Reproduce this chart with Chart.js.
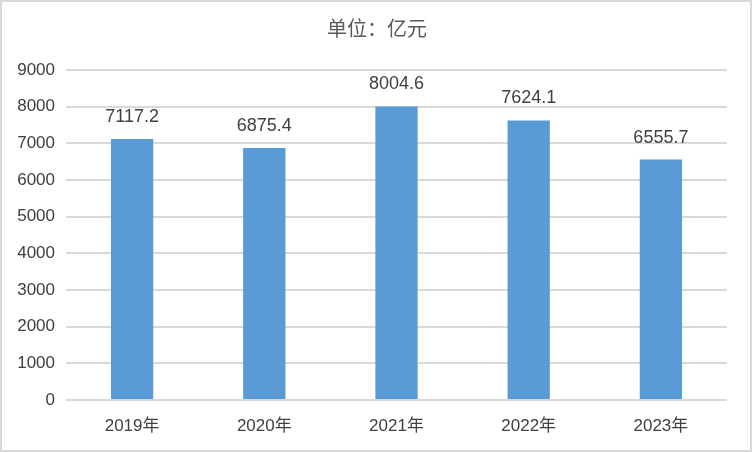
<!DOCTYPE html>
<html><head><meta charset="utf-8">
<script src="https://cdn.jsdelivr.net/npm/chart.js@4"></script>
<style>html,body{margin:0;padding:0;background:#fff;}#wrap{width:752px;height:452px;}</style>
</head><body><div id="wrap"><canvas id="c" width="752" height="452"></canvas></div>
<script>
const categories = ["2019年","2020年","2021年","2022年","2023年"];
const values = [7117.2, 6875.4, 8004.6, 7624.1, 6555.7];
const yTicks = [0,1000,2000,3000,4000,5000,6000,7000,8000,9000];
const titleText = "单位：亿元";
const FONT = '"Liberation Sans", "Noto Sans CJK SC", sans-serif';

const decor = {
  id: 'decor',
  afterDatasetsDraw(chart) {
    const ctx = chart.ctx;
    const meta = chart.getDatasetMeta(0);
    ctx.save();
    ctx.fillStyle = '#404040';
    ctx.font = '18px ' + FONT;
    ctx.textAlign = 'center';
    ctx.textBaseline = 'middle';
    meta.data.forEach((bar, i) => {
      ctx.fillText(values[i].toFixed(1), bar.x, bar.y - 22);
    });
    ctx.fillStyle = '#595959';
    ctx.font = '20px ' + FONT;
    ctx.fillText(titleText, 377, 30);
    ctx.strokeStyle = '#d9d9d9';
    ctx.lineWidth = 2;
    ctx.strokeRect(1, 1, chart.width - 2, chart.height - 2);
    ctx.restore();
  }
};

new Chart(document.getElementById('c'), {
  type: 'bar',
  data: { labels: categories, datasets: [{ data: values, backgroundColor: '#5B9BD5', barPercentage: 0.32, categoryPercentage: 1 }] },
  options: {
    responsive: false, animation: false, devicePixelRatio: 1,
    layout: { padding: { top: 70, right: 25, left: 0, bottom: 0 } },
    plugins: { legend: { display: false }, tooltip: { enabled: false } },
    scales: {
      x: {
        grid: { display: false, drawTicks: false },
        border: { display: false },
        ticks: { color: '#404040', font: { size: 17, family: FONT }, padding: 16 },
        afterFit(s) { s.height = 52; }
      },
      y: {
        min: 0, max: 9000,
        afterBuildTicks(s) { s.ticks = yTicks.map(v => ({ value: v })); },
        grid: { color: '#d9d9d9', lineWidth: 2, drawTicks: false },
        border: { display: false },
        ticks: { color: '#404040', font: { size: 17, family: FONT }, padding: 11, callback: v => String(v) },
        afterFit(s) { s.width = 66; }
      }
    }
  },
  plugins: [decor]
});
</script></body></html>
